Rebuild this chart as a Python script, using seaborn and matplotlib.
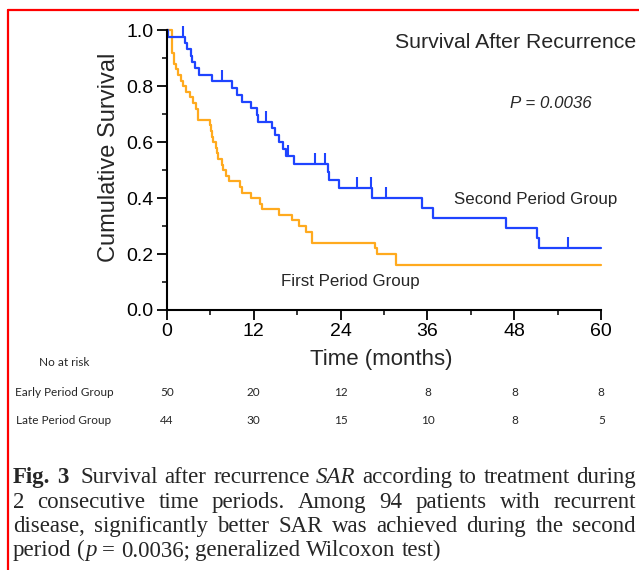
import numpy as np
import pandas as pd
import matplotlib
matplotlib.use("Agg")
import matplotlib.pyplot as plt
import seaborn as sns
from matplotlib.path import Path
from matplotlib.lines import Line2D

# ---------------- data ----------------
month_ticks = [0, 12, 24, 36, 48, 60]

first_event_times = [0.8, 1.0, 1.28, 1.6, 1.93, 2.3, 2.66, 3.2, 3.6, 4.05, 4.28,
                     5.98, 6.05, 6.2, 6.43, 6.85, 6.95, 7.13, 7.6, 7.82, 8.14, 8.65,
                     10.1, 10.35, 11.7, 12.9, 13.2, 15.5, 17.35, 18.2, 19.2, 20.1,
                     28.8, 29.1, 31.7]
first_survival = [0.92, 0.88, 0.86, 0.84, 0.82, 0.80, 0.78, 0.76, 0.74, 0.72, 0.68,
                  0.66, 0.64, 0.62, 0.60, 0.58, 0.56, 0.54, 0.52, 0.50, 0.48, 0.46,
                  0.44, 0.42, 0.40, 0.38, 0.36, 0.34, 0.32, 0.30, 0.28, 0.24,
                  0.22, 0.20, 0.16]

second_event_times = [0.2, 2.5, 2.85, 3.3, 3.45, 3.9, 4.5, 6.2, 9.0, 9.75, 10.35,
                      11.7, 12.4, 12.55, 14.5, 15.0, 15.5, 16.0, 16.45, 17.55,
                      22.2, 22.4, 23.8, 28.3, 35.2, 36.7, 46.8, 51.1, 51.45]
second_survival = [0.977, 0.955, 0.932, 0.909, 0.886, 0.864, 0.841, 0.818, 0.795,
                   0.770, 0.745, 0.721, 0.697, 0.673, 0.649, 0.624, 0.599, 0.574,
                   0.549, 0.522, 0.494, 0.465, 0.435, 0.402, 0.366, 0.330, 0.293,
                   0.257, 0.221]
second_censor_times = [2.2, 7.7, 13.7, 16.8, 20.5, 21.9, 26.3, 28.2, 30.3, 55.4]

risk_row_labels = ["Early Period Group", "Late Period Group"]
risk_early = [50, 20, 12, 8, 8, 8]
risk_late = [44, 30, 15, 10, 8, 5]

# ---------------- style ----------------
W, H = 639, 570
BLUE = "#1f44ff"
ORANGE = "#ffaa1e"
sns.set_style("ticks")
plt.rcParams["font.family"] = ["Liberation Sans", "DejaVu Sans"]

fig = plt.figure(figsize=(W / 100, H / 100), dpi=100)
fig.patch.set_facecolor("white")

x_left, x_right = 166.7, 601.3
y_top, y_bot = 30.3, 310.0
ax = fig.add_axes([x_left / W, 1 - y_bot / H, (x_right - x_left) / W, (y_bot - y_top) / H])
ax.set_facecolor("white")

end_t = month_ticks[-1]


def curve_frame(times, surv, name):
    t = [0.0] + list(times) + [end_t]
    s = [1.0] + list(surv) + [surv[-1]]
    return pd.DataFrame({"time": t, "survival": s, "group": name})


df = pd.concat([curve_frame(first_event_times, first_survival, "First Period Group"),
                curve_frame(second_event_times, second_survival, "Second Period Group")],
               ignore_index=True)

sns.lineplot(data=df, x="time", y="survival", hue="group",
             palette={"First Period Group": ORANGE, "Second Period Group": BLUE},
             estimator=None, sort=False, drawstyle="steps-post", legend=False,
             linewidth=1.6, ax=ax, clip_on=False)

# censor ticks on the second-period curve
full_t = np.array([0.0] + second_event_times)
full_s = np.array([1.0] + second_survival)
cidx = np.searchsorted(full_t, np.array(second_censor_times), side="right") - 1
censor_marker = Path([(0, 0), (0, 1)])
ax.plot(second_censor_times, full_s[cidx], ls="none", marker=censor_marker,
        markersize=16, markeredgecolor=BLUE, markerfacecolor="none",
        markeredgewidth=1.5, clip_on=False)

# axes
ax.set_xlim(0, 60)
ax.set_ylim(0, 1.0)
ax.set_xticks(month_ticks)
ax.set_xticks([6, 18, 30, 42, 54], minor=True)
ax.set_yticks([0.0, 0.2, 0.4, 0.6, 0.8, 1.0])
ax.set_yticklabels(["0.0", "0.2", "0.4", "0.6", "0.8", "1.0"])
ax.set_yticks([0.1, 0.3, 0.5, 0.7, 0.9], minor=True)
ax.tick_params(which="major", length=7.2, width=1.3, direction="out",
               labelsize=14, pad=2.5, colors="black")
ax.tick_params(which="minor", length=3.6, width=1.3, direction="out")
for side in ["top", "right"]:
    ax.spines[side].set_visible(False)
for side in ["left", "bottom"]:
    ax.spines[side].set_linewidth(1.5)
    ax.spines[side].set_color("black")
ax.grid(False)

ax.set_xlabel("Time (months)", fontsize=16)
ax.xaxis.set_label_coords((381 - x_left) / (x_right - x_left), -0.139)
ax.set_ylabel("Cumulative Survival", fontsize=17)
ax.yaxis.set_label_coords(-0.108, 0.547)


def px_to_data(xp, yp):
    return ((xp - x_left) / (x_right - x_left) * 60, (y_bot - yp) / (y_bot - y_top))


tx, ty = px_to_data(395, 47.5)
ax.text(tx, ty, "Survival After Recurrence", fontsize=15.3, ha="left", va="baseline", clip_on=False)
tx, ty = px_to_data(510, 108.3)
ax.text(tx, ty, "P = 0.0036", fontsize=12.2, style="italic", ha="left", va="baseline")
tx, ty = px_to_data(454, 204)
ax.text(tx, ty, "Second Period Group", fontsize=12.2, ha="left", va="baseline")
tx, ty = px_to_data(281, 285.7)
ax.text(tx, ty, "First Period Group", fontsize=12.2, ha="left", va="baseline")

# number at risk table
risk_font = ["Lato", "DejaVu Sans"]
def ypx_axes(yp):
    return (y_bot - yp) / (y_bot - y_top)
label_x = (64 - x_left) / (x_right - x_left)
ax.text(label_x, ypx_axes(363), "No at risk", transform=ax.transAxes, ha="center",
        va="center", fontsize=8.5, family=risk_font)
trans = ax.get_xaxis_transform()
for row_label, counts, yp in [(risk_row_labels[0], risk_early, 392),
                              (risk_row_labels[1], risk_late, 420)]:
    ax.text(label_x, ypx_axes(yp), row_label, transform=ax.transAxes, ha="center",
            va="center", fontsize=8.5, family=risk_font)
    for m, c in zip(month_ticks, counts):
        ax.text(m, ypx_axes(yp), str(c), transform=trans, ha="center", va="center",
                fontsize=8.5, family=risk_font, clip_on=False)

# red frame (left and top)
fig.add_artist(Line2D([8 / W, 8 / W], [0, 1 - 10 / H], color="red", lw=1.6,
                      transform=fig.transFigure))
fig.add_artist(Line2D([8 / W, 1], [1 - 10 / H, 1 - 10 / H], color="red", lw=1.6,
                      transform=fig.transFigure))

# caption (justified)
CAP_SIZE = 16.5
CAP_FONT = ["Liberation Serif", "DejaVu Serif"]
caption = [
    ([[("Fig.", "b")], [("3", "b")], [("Survival", "n")], [("after", "n")], [("recurrence", "n")],
      [("SAR", "i")], [("according", "n")], [("to", "n")], [("treatment", "n")], [("during", "n")]],
     483, True, {1: 1.8}),
    ([[(w, "n")] for w in "2 consecutive time periods. Among 94 patients with recurrent".split()],
     508, True, {}),
    ([[(w, "n")] for w in "disease, significantly better SAR was achieved during the second".split()],
     532, True, {}),
    ([[("period", "n")], [("(", "n"), ("p", "i")], [("=", "n")], [("0.0036;", "n")],
      [("generalized", "n")], [("Wilcoxon", "n")], [("test)", "n")]],
     556, False, {}),
]
renderer = fig.canvas.get_renderer()
x0_cap, x1_cap = 13.0, 636.0
space_px = 0.25 * CAP_SIZE * 100 / 72
for words, ybase, justify, extra in caption:
    placed = []
    widths = []
    for word in words:
        pieces = []
        w = 0.0
        for txt, st in word:
            t = fig.text(0, 0, txt, fontsize=CAP_SIZE, family=CAP_FONT,
                         fontweight="bold" if st == "b" else "normal",
                         fontstyle="italic" if st == "i" else "normal",
                         ha="left", va="baseline")
            pieces.append((t, w))
            w += t.get_window_extent(renderer).width
        placed.append(pieces)
        widths.append(w)
    weights = [extra.get(i, 1.0) for i in range(len(words) - 1)]
    if justify:
        gap = (x1_cap - x0_cap - sum(widths)) / sum(weights)
    else:
        gap = space_px
    x = x0_cap
    for i, (pieces, w) in enumerate(zip(placed, widths)):
        for t, off in pieces:
            t.set_position(((x + off) / W, 1 - ybase / H))
        if i < len(weights):
            x += w + gap * weights[i]

fig.savefig("out.png", dpi=100, facecolor="white")
